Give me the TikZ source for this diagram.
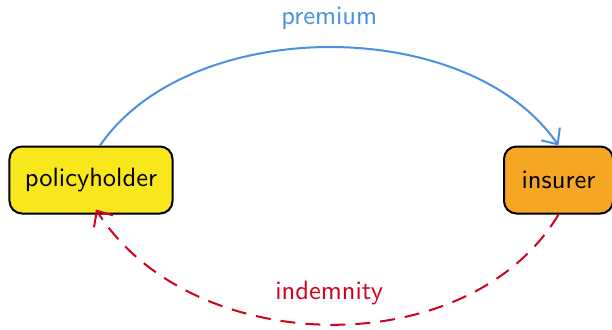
\documentclass[tikz,border=0pt]{standalone}
\usetikzlibrary{arrows.meta,shadows}

\definecolor{holderyellow}{HTML}{F8E71C}
\definecolor{insurerorange}{HTML}{F5A623}
\definecolor{premiumblue}{HTML}{4A90E2}
\definecolor{indemnityred}{HTML}{D0021B}

\tikzset{
	labelfont/.style={font=\sffamily\fontsize{10.6}{12}\selectfont},
	party/.style={draw=black, line width=0.8pt, rounded corners=5pt,
			minimum height=26.8pt, labelfont,
			drop shadow={opacity=0.3, shadow xshift=0.2pt, shadow yshift=-0.4pt}},
	flow/.style={line width=0.8pt, -{Straight Barb[length=5pt,width=9pt]}},
}

\begin{document}
\begin{tikzpicture}[x=0.4pt, y=-0.4pt]
			\def\boxrow{180}

			% Frame
			\useasboundingbox (0, 0) rectangle (612, 329);

			% Parties
			\node[party, fill=holderyellow, minimum width=65.2pt] (holder) at (91, \boxrow) {policyholder};
			\node[party, fill=insurerorange, minimum width=43.6pt] (insurer) at (558.5, \boxrow) {insurer};

			% Premium paid to the insurer
			\draw[flow, premiumblue] ([xshift=3.6pt]holder.north) .. controls +(90, -131) and +(-90, -131) .. (insurer.north)
				node[midway, above=3.2pt, labelfont] (premium) {premium};

			% Indemnity paid back
			\draw[flow, indemnityred, dash pattern=on 6pt off 4pt] (insurer.south) .. controls +(-90, 150) and +(95, 150) .. ([xshift=2pt, yshift=2pt]holder.south)
				node[midway, above=4pt, labelfont] (indemnity) {indemnity};

		\end{tikzpicture}
\end{document}
